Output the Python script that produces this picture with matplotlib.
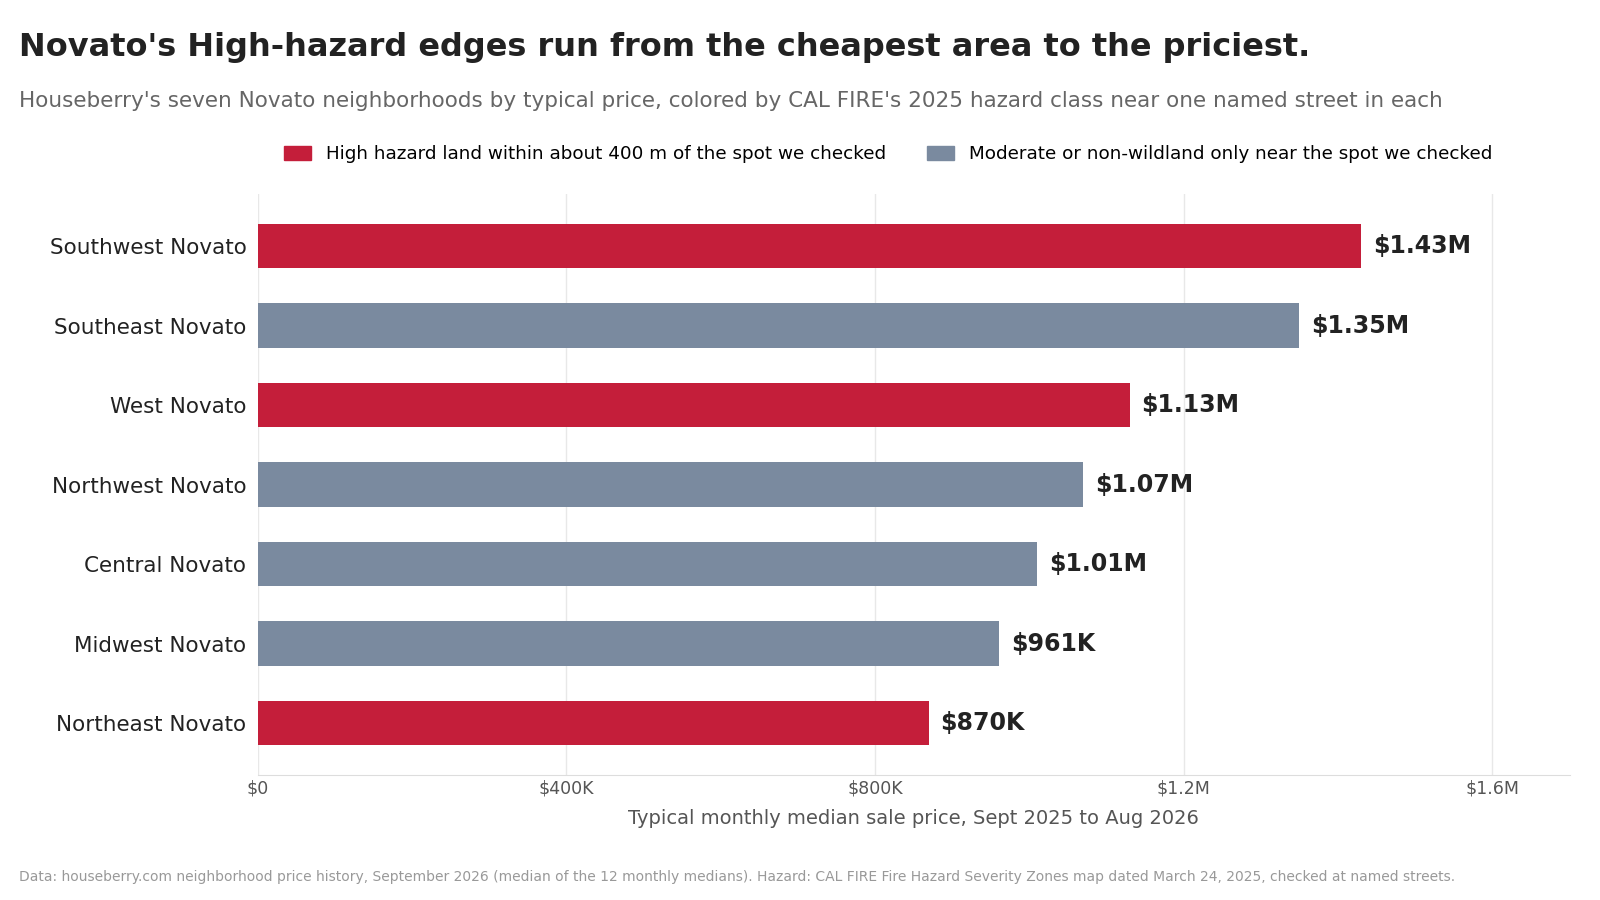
import matplotlib
matplotlib.use("Agg")
import matplotlib.pyplot as plt
from matplotlib.patches import Patch

neighborhoods = ["Southwest Novato", "Southeast Novato", "West Novato", "Northwest Novato",
                 "Central Novato", "Midwest Novato", "Northeast Novato"]
prices = [1430000, 1350000, 1130000, 1070000, 1010000, 961000, 870000]
value_labels = ["$1.43M", "$1.35M", "$1.13M", "$1.07M", "$1.01M", "$961K", "$870K"]
high_hazard = [True, False, True, False, False, False, True]
tick_vals = [0, 400000, 800000, 1200000, 1600000]
tick_labels = ["$0", "$400K", "$800K", "$1.2M", "$1.6M"]

RED = "#C41E3A"
GRAY = "#7A8A9F"

fig = plt.figure(figsize=(16, 9), dpi=100)
ax = fig.add_axes([0.161, 0.139, 0.82, 0.645])

ypos = list(range(len(prices)))[::-1]
colors = [RED if h else GRAY for h in high_hazard]
ax.barh(ypos, prices, height=0.56, color=colors, zorder=2)
for y, v, lab in zip(ypos, prices, value_labels):
    ax.text(v + 15000, y, lab, va="center", ha="left", fontsize=17, fontweight="bold", color="#222222")

ax.set_yticks(ypos)
ax.set_yticklabels(neighborhoods, fontsize=15.5, color="#222222")
ax.set_xticks(tick_vals)
ax.set_xticklabels(tick_labels, fontsize=12.5, color="#555555")
ax.set_xlim(0, 1700000)
ax.set_ylim(-0.65, 6.65)
ax.tick_params(axis="both", length=0)
ax.tick_params(axis="y", pad=8)
ax.grid(axis="x", color="#E8E8E8", lw=1, zorder=0)
for s in ["top", "right", "left"]:
    ax.spines[s].set_visible(False)
ax.spines["bottom"].set_color("#DDDDDD")
ax.set_xlabel("Typical monthly median sale price, Sept 2025 to Aug 2026", fontsize=14, color="#555555", labelpad=8)

fig.text(0.012, 0.947, "Novato's High-hazard edges run from the cheapest area to the priciest.",
         fontsize=23, fontweight="bold", color="#222222", va="center")
fig.text(0.012, 0.888, "Houseberry's seven Novato neighborhoods by typical price, colored by CAL FIRE's 2025 hazard class near one named street in each",
         fontsize=15.5, color="#666666", va="center")
handles = [Patch(color=RED, label="High hazard land within about 400 m of the spot we checked"),
           Patch(color=GRAY, label="Moderate or non-wildland only near the spot we checked")]
fig.legend(handles=handles, loc="center", bbox_to_anchor=(0.555, 0.829), ncol=2, frameon=False,
           fontsize=13.2, handlelength=1.5, handleheight=0.8, columnspacing=2.2)
fig.text(0.012, 0.026, "Data: houseberry.com neighborhood price history, September 2026 (median of the 12 monthly medians). Hazard: CAL FIRE Fire Hazard Severity Zones map dated March 24, 2025, checked at named streets.",
         fontsize=10, color="#999999", va="center")

fig.savefig("out.png", dpi=100)
